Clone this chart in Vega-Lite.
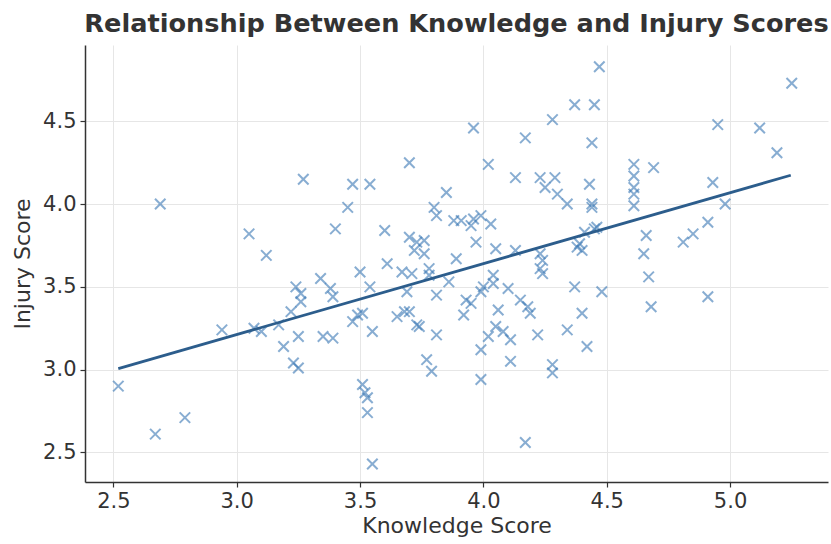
{
  "$schema": "https://vega.github.io/schema/vega-lite/v6.json",
  "width": 743,
  "height": 437,
  "autosize": "none",
  "padding": {"left": 85, "top": 45, "right": 3, "bottom": 62},
  "background": "white",
  "config": {
    "view": {"stroke": null},
    "font": "DejaVu Sans",
    "axis": {
      "labelFont": "DejaVu Sans", "titleFont": "DejaVu Sans",
      "labelFontSize": 21, "titleFontSize": 22, "labelColor": "#333", "titleColor": "#333",
      "titleFontWeight": "normal", "domainColor": "#333", "domainWidth": 1.5,
      "tickColor": "#333", "tickWidth": 1.2, "tickSize": 5,
      "gridColor": "#e6e6e6", "gridWidth": 1
    }
  },
  "title": {"text": "Relationship Between Knowledge and Injury Scores", "font": "DejaVu Sans", "fontSize": 25.6, "fontWeight": "bold", "color": "#333", "anchor": "middle", "offset": 7},
  "datasets": {
    "pts": [
      {"k":2.52,"i":2.90},{"k":2.67,"i":2.61},{"k":2.69,"i":4.00},{"k":2.79,"i":2.71},{"k":2.94,"i":3.24},
      {"k":3.05,"i":3.82},{"k":3.07,"i":3.25},{"k":3.10,"i":3.23},{"k":3.12,"i":3.69},{"k":3.17,"i":3.27},
      {"k":3.19,"i":3.14},{"k":3.22,"i":3.35},{"k":3.23,"i":3.04},{"k":3.25,"i":3.01},{"k":3.24,"i":3.50},
      {"k":3.26,"i":3.46},{"k":3.26,"i":3.41},{"k":3.25,"i":3.20},{"k":3.27,"i":4.15},{"k":3.34,"i":3.55},
      {"k":3.35,"i":3.20},{"k":3.38,"i":3.49},{"k":3.39,"i":3.44},{"k":3.39,"i":3.19},{"k":3.40,"i":3.85},
      {"k":3.45,"i":3.98},{"k":3.47,"i":4.12},{"k":3.54,"i":4.12},{"k":3.47,"i":3.29},{"k":3.49,"i":3.33},
      {"k":3.51,"i":3.34},{"k":3.50,"i":3.59},{"k":3.54,"i":3.50},{"k":3.55,"i":3.23},{"k":3.51,"i":2.91},
      {"k":3.52,"i":2.86},{"k":3.53,"i":2.83},{"k":3.53,"i":2.74},{"k":3.55,"i":2.43},{"k":3.60,"i":3.84},
      {"k":3.61,"i":3.64},{"k":3.65,"i":3.32},{"k":3.68,"i":3.35},{"k":3.67,"i":3.59},{"k":3.69,"i":3.47},
      {"k":3.70,"i":3.35},{"k":3.70,"i":4.25},{"k":3.70,"i":3.80},{"k":3.71,"i":3.58},{"k":3.72,"i":3.72},
      {"k":3.73,"i":3.77},{"k":3.73,"i":3.27},{"k":3.74,"i":3.26},{"k":3.76,"i":3.78},{"k":3.76,"i":3.70},
      {"k":3.78,"i":3.61},{"k":3.78,"i":3.57},{"k":3.80,"i":3.98},{"k":3.81,"i":3.93},{"k":3.81,"i":3.45},
      {"k":3.81,"i":3.21},{"k":3.77,"i":3.06},{"k":3.79,"i":2.99},{"k":3.85,"i":4.07},{"k":3.86,"i":3.53},
      {"k":3.88,"i":3.90},{"k":3.91,"i":3.90},{"k":3.89,"i":3.67},{"k":3.92,"i":3.33},{"k":3.93,"i":3.42},
      {"k":3.95,"i":3.40},{"k":3.95,"i":3.87},{"k":3.96,"i":4.46},{"k":3.97,"i":3.77},{"k":3.96,"i":3.91},
      {"k":3.99,"i":3.93},{"k":4.00,"i":3.50},{"k":3.99,"i":3.47},{"k":3.99,"i":3.12},{"k":3.99,"i":2.94},
      {"k":4.02,"i":4.24},{"k":4.03,"i":3.88},{"k":4.04,"i":3.57},{"k":4.04,"i":3.52},{"k":4.05,"i":3.73},
      {"k":4.06,"i":3.36},{"k":4.05,"i":3.26},{"k":4.02,"i":3.20},{"k":4.08,"i":3.23},{"k":4.10,"i":3.49},
      {"k":4.11,"i":3.18},{"k":4.11,"i":3.05},{"k":4.13,"i":4.16},{"k":4.13,"i":3.72},{"k":4.15,"i":3.42},
      {"k":4.17,"i":4.40},{"k":4.18,"i":3.38},{"k":4.19,"i":3.34},{"k":4.17,"i":2.56},{"k":4.22,"i":3.21},
      {"k":4.23,"i":4.16},{"k":4.25,"i":4.10},{"k":4.23,"i":3.70},{"k":4.24,"i":3.66},{"k":4.23,"i":3.61},
      {"k":4.24,"i":3.58},{"k":4.28,"i":4.51},{"k":4.29,"i":4.16},{"k":4.30,"i":4.06},{"k":4.28,"i":3.03},
      {"k":4.28,"i":2.98},{"k":4.34,"i":4.00},{"k":4.34,"i":3.24},{"k":4.37,"i":4.60},{"k":4.38,"i":3.74},
      {"k":4.39,"i":3.76},{"k":4.40,"i":3.72},{"k":4.37,"i":3.50},{"k":4.40,"i":3.34},{"k":4.41,"i":3.83},
      {"k":4.42,"i":3.14},{"k":4.43,"i":4.12},{"k":4.44,"i":4.37},{"k":4.44,"i":4.00},{"k":4.44,"i":3.98},
      {"k":4.45,"i":4.60},{"k":4.47,"i":4.83},{"k":4.45,"i":3.85},{"k":4.46,"i":3.86},{"k":4.48,"i":3.47},
      {"k":4.61,"i":4.24},{"k":4.61,"i":4.17},{"k":4.61,"i":4.10},{"k":4.61,"i":4.06},{"k":4.61,"i":3.99},
      {"k":4.65,"i":3.70},{"k":4.66,"i":3.81},{"k":4.67,"i":3.56},{"k":4.68,"i":3.38},{"k":4.69,"i":4.22},
      {"k":4.81,"i":3.77},{"k":4.85,"i":3.82},{"k":4.91,"i":3.89},{"k":4.91,"i":3.44},{"k":4.93,"i":4.13},
      {"k":4.95,"i":4.48},{"k":4.98,"i":4.00},{"k":5.12,"i":4.46},{"k":5.19,"i":4.31},{"k":5.25,"i":4.73}
    ],
    "fit": [{"k":2.52,"i":3.006},{"k":5.246,"i":4.174}]
  },
  "encoding": {
    "x": {"field": "k", "type": "quantitative", "title": "Knowledge Score",
      "scale": {"domain": [2.385, 5.397], "nice": false, "zero": false},
      "axis": {"values": [2.5, 3.0, 3.5, 4.0, 4.5, 5.0], "format": ".1f", "labelPadding": 3, "titlePadding": 4}},
    "y": {"field": "i", "type": "quantitative", "title": "Injury Score",
      "scale": {"domain": [2.321, 4.961], "nice": false, "zero": false},
      "axis": {"values": [2.5, 3.0, 3.5, 4.0, 4.5], "format": ".1f", "labelPadding": 4, "titlePadding": 8}}
  },
  "layer": [
    {
      "data": {"name": "pts"},
      "mark": {"type": "point", "shape": "M-1,-1L1,1M1,-1L-1,1", "filled": false, "size": 110, "strokeWidth": 2, "color": "#3a78b5", "opacity": 0.6}
    },
    {
      "data": {"name": "fit"},
      "mark": {"type": "line", "color": "#2c5d8c", "strokeWidth": 2.8}
    }
  ]
}
